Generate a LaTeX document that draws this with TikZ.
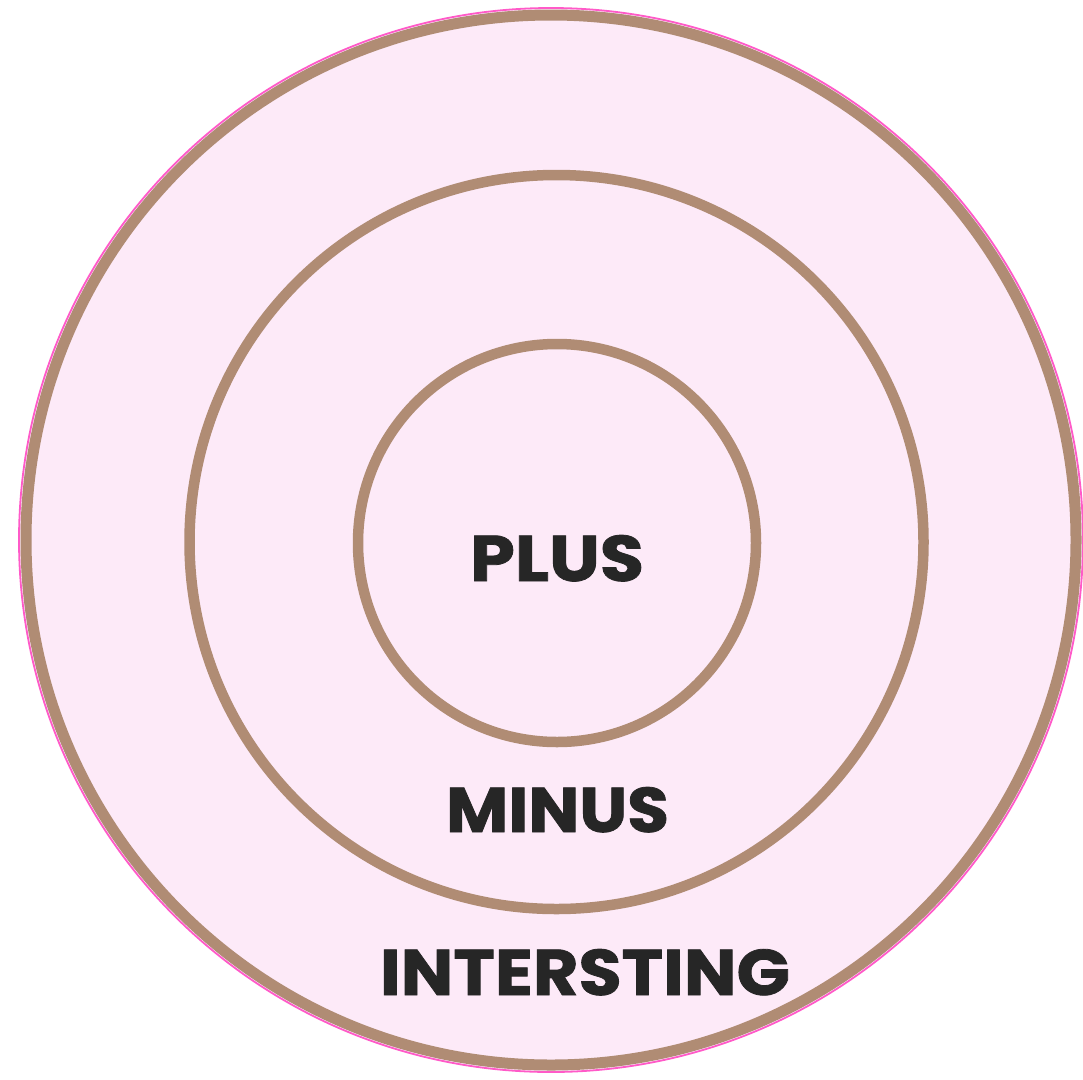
\documentclass[tikz,border=0pt]{standalone}
\usepackage{fontspec}
\setmainfont{Poppins}
\newfontfamily\heavyfont{Poppins}[BoldFeatures={FakeBold=1.2}]
\definecolor{ringfill}{RGB}{253,234,248}
\definecolor{ringbrown}{RGB}{176,140,116}
\definecolor{edgepink}{RGB}{255,90,200}
\definecolor{labeltext}{RGB}{38,38,38}
\tikzset{
  ring/.style={draw=ringbrown, line width=10.5pt},
  label/.style={anchor=base, text=labeltext, inner sep=0pt,
    font=\heavyfont\fontsize{64}{70}\selectfont\bfseries}
}
\begin{document}
\begin{tikzpicture}[x=1pt,y=-1pt]
\useasboundingbox (0,0) rectangle (1083,1079);
% outer disk
\fill[ringfill] (551,540) circle[radius=532pt];
\draw[ring, line width=11pt] (551,540) circle[radius=525pt];
\draw[edgepink, line width=1.8pt] (551,540) circle[radius=532pt];
% middle and inner rings
\draw[ring] (556.5,542) circle[radius=367pt];
\draw[ring] (557,543) circle[radius=199pt];
% labels
\node[label] (plus) at (557,581) {\resizebox{174pt}{46pt}{PLUS}};
\node[label] (minus) at (557.5,832) {\resizebox{223pt}{45pt}{MINUS}};
\node[label] (inter) at (585,995) {\resizebox{410pt}{46pt}{INTERSTING}};
\end{tikzpicture}
\end{document}
